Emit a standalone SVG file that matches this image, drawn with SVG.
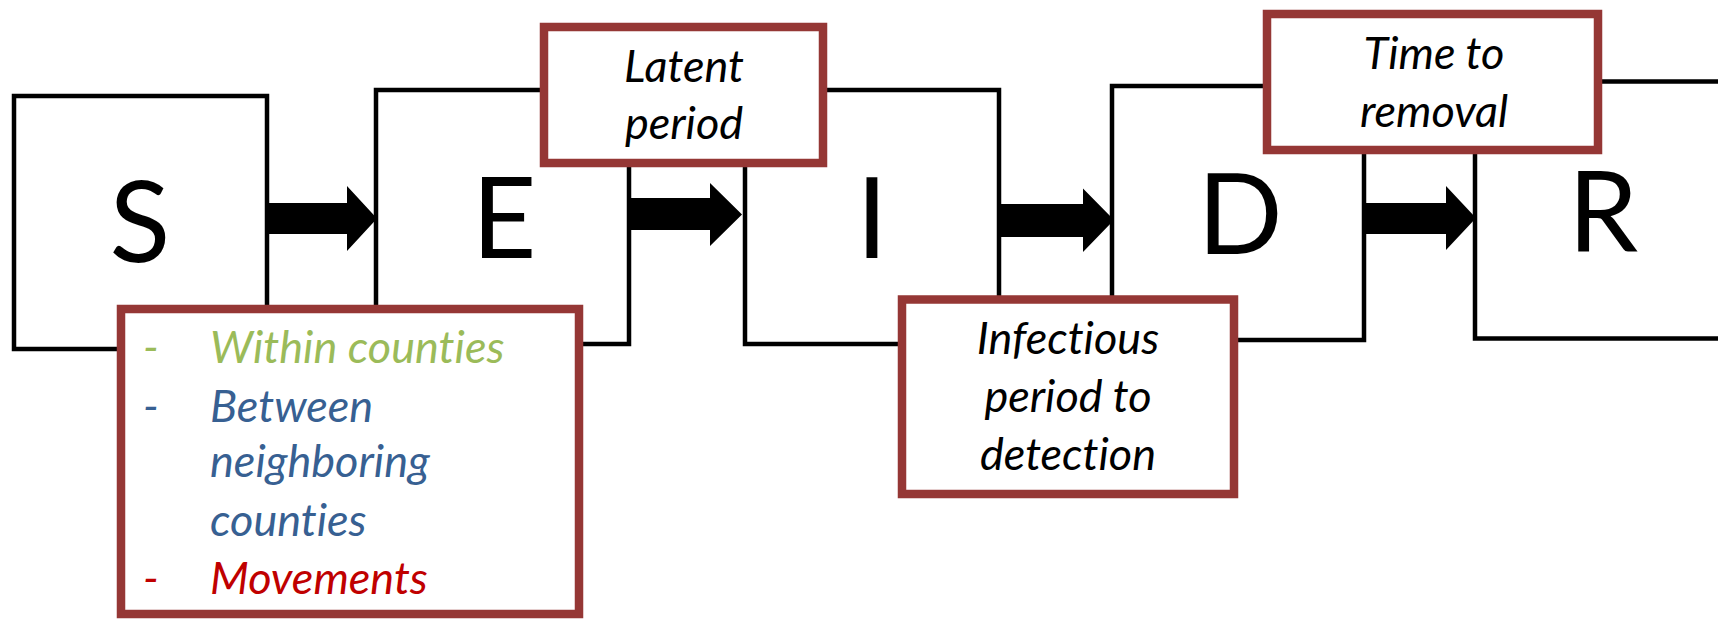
<svg xmlns="http://www.w3.org/2000/svg" width="1718" height="621" viewBox="0 0 1718 621">
<style>
.box{fill:#fff;stroke:#000;stroke-width:4.5}
.lbl{fill:#fff;stroke:#953735;stroke-width:8.5}
text{font-variant-ligatures:none;font-feature-settings:"liga" 0,"dlig" 0}
.big{font-family:Lato,"Open Sans",sans-serif;font-size:112px;fill:#000;text-anchor:middle}
.it{font-family:Lato,"Open Sans",sans-serif;font-style:italic;font-size:45px;fill:#000;text-anchor:middle}
.li{font-family:Lato,"Open Sans",sans-serif;font-style:italic;font-size:45px}
.arr{fill:#000}
</style>
<g id="S"><rect class="box" x="14" y="96" width="253" height="253"/><text class="big" x="140" y="262">S</text></g>
<g id="E"><rect class="box" x="376" y="90" width="253" height="254"/><text class="big" x="504" y="258">E</text></g>
<g id="I"><rect class="box" x="745" y="90" width="254" height="254"/><text class="big" x="872" y="258">I</text></g>
<g id="D"><rect class="box" x="1112" y="86" width="252" height="254"/><text class="big" x="1240" y="254">D</text></g>
<g id="R"><rect class="box" x="1475" y="81.5" width="300" height="257"/><text class="big" x="1603" y="252">R</text></g>
<g id="connectors">
<polygon class="arr" points="267,203 347,203 347,186 377,218.5 347,251 347,234 267,234"/>
<polygon class="arr" points="629,198 710,198 710,183 742,214.5 710,246 710,230 629,230"/>
<polygon class="arr" points="999,204 1083,204 1083,188.5 1114,220 1083,252 1083,237 999,237"/>
<polygon class="arr" points="1364,203 1446,203 1446,186 1476,218 1446,250 1446,234 1364,234"/>
</g>
<g id="latent"><rect class="lbl" x="544" y="27" width="279" height="136"/>
<text class="it" x="684" y="82">Latent</text><text class="it" x="684" y="139">period</text></g>
<g id="removal"><rect class="lbl" x="1267" y="14" width="331" height="136"/>
<text class="it" x="1434" y="69">Time to</text><text class="it" x="1434" y="127">removal</text></g>
<g id="infectious"><rect class="lbl" x="902" y="299.5" width="332" height="194.5"/>
<text class="it" x="1068" y="354">Infectious</text><text class="it" x="1068" y="412">period to</text><text class="it" x="1068" y="470">detection</text></g>
<g id="transmission"><rect class="lbl" x="121" y="309" width="458" height="305"/>
<text class="li" x="143" y="363" fill="#9BBB59">-</text><text class="li" x="210" y="363" fill="#9BBB59">Within counties</text>
<text class="li" x="143" y="422" fill="#376092">-</text><text class="li" x="210" y="422" fill="#376092">Between</text>
<text class="li" x="210" y="477" fill="#376092">neighboring</text>
<text class="li" x="210" y="536" fill="#376092">counties</text>
<text class="li" x="143" y="594" fill="#C00000">-</text><text class="li" x="210" y="594" fill="#C00000">Movements</text>
</g>
</svg>
